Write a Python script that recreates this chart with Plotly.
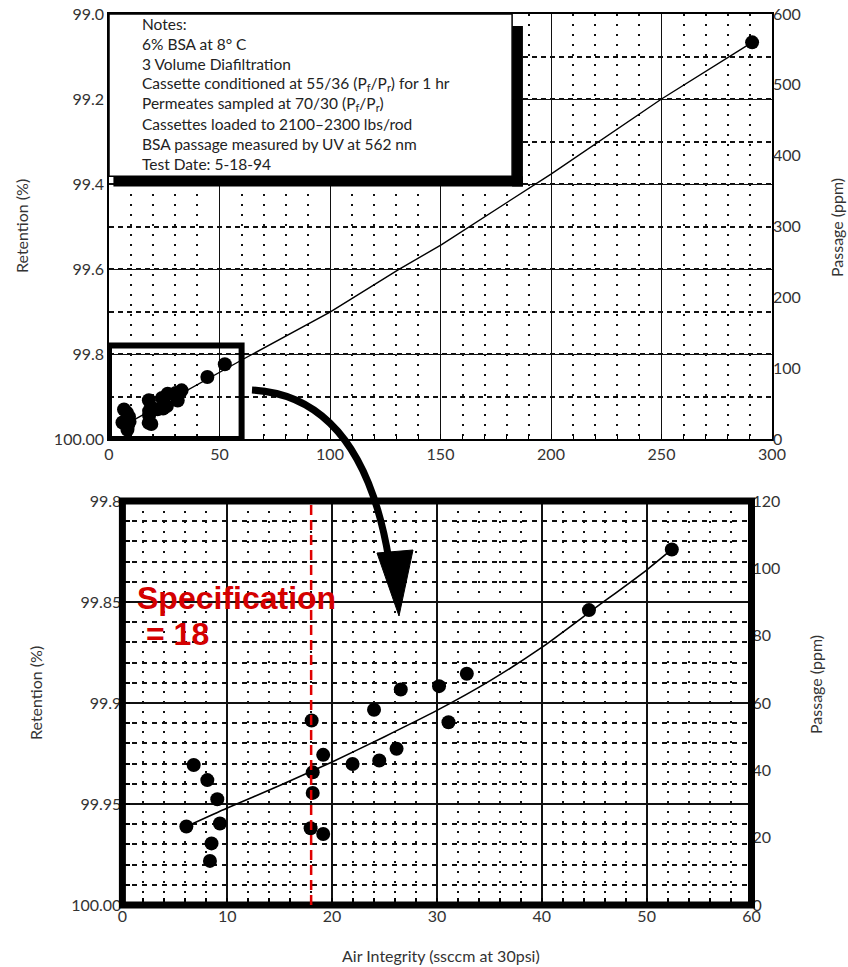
import plotly.graph_objects as go

# ---------------- data ----------------
air_integrity = [6.8, 8.1, 9.05, 9.3, 6.1, 8.5, 8.35, 18.05, 18.15, 18.15, 19.15, 17.95,
                 19.15, 21.95, 24.5, 24.0, 26.15, 26.55, 30.2, 32.85, 31.1, 44.5, 52.4, 291.0]
passage_ppm = [41.6, 37.1, 31.4, 24.2, 23.3, 18.3, 13.1, 54.8, 39.4, 33.3, 44.6, 22.8,
               21.1, 41.9, 42.9, 58.0, 46.4, 64.0, 65.0, 68.7, 54.3, 87.6, 105.6, 560.0]

fit_full_x = [5, 12.5, 61.5, 100, 131, 150.5, 200, 250, 291]
fit_full_ppm = [15, 29, 114, 179, 239, 274.5, 374, 480, 560]

fit_zoom_x = [6.1, 10, 15, 20, 25, 30, 35, 40, 45, 50, 52.4]
fit_zoom_ppm = [23.3, 28.8, 35.5, 42.5, 50.0, 57.8, 66.5, 76.5, 88.0, 99.5, 105.6]

spec = 18

top_ret_ticks = [99.0, 99.2, 99.4, 99.6, 99.8, 100.0]
top_ret_labels = ["99.0", "99.2", "99.4", "99.6", "99.8", "100.00"]
bot_ret_ticks = [99.8, 99.85, 99.9, 99.95, 100.0]
bot_ret_labels = ["99.8", "99.85", "99.9", "99.95", "100.00"]

notes = [
    "Notes:",
    "6% BSA at 8° C",
    "3 Volume Diafiltration",
    "Cassette conditioned at 55/36 (P<sub>f</sub>/P<sub>r</sub>) for 1 hr",
    "Permeates sampled at 70/30 (P<sub>f</sub>/P<sub>r</sub>)",
    "Cassettes loaded to 2100–2300 lbs/rod",
    "BSA passage measured by UV at 562 nm",
    "Test Date: 5-18-94",
]

W, H = 848, 967
def px(x):
    return x / W
def py(y):
    return 1 - y / H

FONT = "Lato"
TXT = "#333333"
GRID = "#111111"

zoom_x = [a for a in air_integrity if a <= 60]
zoom_p = [p for a, p in zip(air_integrity, passage_ppm) if a <= 60]

fig = go.Figure()

# empty base traces so that both base subplots exist
fig.add_trace(go.Scatter(x=[], y=[], xaxis="x", yaxis="y", hoverinfo="skip"))
fig.add_trace(go.Scatter(x=[], y=[], xaxis="x2", yaxis="y3", hoverinfo="skip"))

# top panel
fig.add_trace(go.Scatter(x=fit_full_x, y=fit_full_ppm, mode="lines",
                         line=dict(color="black", width=1.4), xaxis="x", yaxis="y2"))
fig.add_trace(go.Scatter(x=air_integrity, y=passage_ppm, mode="markers",
                         marker=dict(color="black", size=14), xaxis="x", yaxis="y2"))
# bottom panel
fig.add_trace(go.Scatter(x=fit_zoom_x, y=fit_zoom_ppm, mode="lines",
                         line=dict(color="black", width=1.6, shape="spline", smoothing=0.6),
                         xaxis="x2", yaxis="y4"))
fig.add_trace(go.Scatter(x=zoom_x, y=zoom_p, mode="markers",
                         marker=dict(color="black", size=14), xaxis="x2", yaxis="y4"))

tickfont = dict(family=FONT, size=16, color=TXT)

top_dom_x = [px(109), px(772)]
top_dom_y = [py(439), py(14)]
bot_dom_x = [px(122.4), px(751.5)]
bot_dom_y = [py(905), py(501)]

fig.update_layout(
    width=W, height=H, margin=dict(l=0, r=0, t=0, b=0, pad=0), autosize=False,
    paper_bgcolor="white", plot_bgcolor="white", showlegend=False,
    xaxis=dict(domain=top_dom_x, anchor="y", range=[0, 300], dtick=50, tick0=0,
               automargin=False, ticklabeloverflow="allow",
               showgrid=True, gridcolor=GRID, gridwidth=1.3, zeroline=False,
               showline=True, mirror=True, linecolor="black", linewidth=1.5,
               ticks="inside", ticklen=5, tickcolor="black", tickfont=tickfont,
               minor=dict(dtick=10, tick0=0, showgrid=True, gridcolor=GRID,
                          griddash="2px,8px", gridwidth=2, ticks="inside",
                          ticklen=5, tickcolor="black")),
    yaxis=dict(domain=top_dom_y, anchor="x", range=[100, 99.0], tickmode="array",
               tickvals=top_ret_ticks, ticktext=top_ret_labels, automargin=False,
               ticklabeloverflow="allow",
               showgrid=True, gridcolor=GRID, gridwidth=1.3, zeroline=False,
               showline=True, mirror=True, linecolor="black", linewidth=1.5,
               ticks="", tickfont=tickfont,
               minor=dict(tickmode="linear", tick0=99.0, dtick=0.1, showgrid=True,
                          gridcolor=GRID, griddash="5px,4px", gridwidth=1.5)),
    yaxis2=dict(overlaying="y", anchor="x", side="right", range=[0, 600], dtick=100,
                automargin=False, ticklabeloverflow="allow",
                showgrid=False, zeroline=False, showline=False, ticks="",
                tickfont=tickfont),
    xaxis2=dict(domain=bot_dom_x, anchor="y3", range=[0, 60], dtick=10, tick0=0,
                automargin=False, ticklabeloverflow="allow",
                showgrid=True, gridcolor=GRID, gridwidth=1.5, zeroline=False,
                showline=False, ticks="inside", ticklen=7, tickwidth=2,
                tickcolor="black", tickfont=tickfont,
                minor=dict(dtick=2, tick0=0, showgrid=True, gridcolor=GRID,
                           griddash="2px,8px", gridwidth=2, ticks="inside",
                           ticklen=7, tickwidth=2, tickcolor="black")),
    yaxis3=dict(domain=bot_dom_y, anchor="x2", range=[100, 99.8], tickmode="array",
                tickvals=bot_ret_ticks, ticktext=bot_ret_labels, automargin=False,
                ticklabeloverflow="allow",
                showgrid=True, gridcolor=GRID, gridwidth=1.5, zeroline=False,
                showline=False, ticks="inside", ticklen=8, tickwidth=2,
                tickcolor="black", tickfont=tickfont,
                minor=dict(tickmode="linear", tick0=99.8, dtick=0.01, showgrid=True,
                           gridcolor=GRID, griddash="5px,5px", gridwidth=1.5,
                           ticks="inside", ticklen=8, tickwidth=2, tickcolor="black")),
    yaxis4=dict(overlaying="y3", anchor="x2", side="right", range=[0, 120], dtick=20,
                automargin=False, ticklabeloverflow="allow",
                showgrid=False, zeroline=False, showline=False, ticks="",
                tickfont=tickfont),
)

shapes = []
# notes box shadow + box
shapes.append(dict(type="rect", xref="x", yref="y", x0=182.4, x1=187.3, y0=99.028, y1=99.406,
                   fillcolor="black", line=dict(width=0), layer="above"))
shapes.append(dict(type="rect", xref="x", yref="y", x0=2, x1=187.3, y0=99.382, y1=99.406,
                   fillcolor="black", line=dict(width=0), layer="above"))
shapes.append(dict(type="rect", xref="x", yref="y", x0=0, x1=182.4, y0=99.0, y1=99.382,
                   fillcolor="white", line=dict(color="black", width=1.5), layer="above"))
# zoom region rectangle in top panel
shapes.append(dict(type="rect", xref="x", yref="y", x0=0, x1=60, y0=100, y1=99.78,
                   line=dict(color="black", width=6), layer="above"))
# thick frame of bottom panel
shapes.append(dict(type="rect", xref="x2 domain", yref="y3 domain", x0=0, x1=1, y0=0, y1=1,
                   line=dict(color="black", width=7), layer="above"))
# specification line
shapes.append(dict(type="line", xref="x2", yref="y3 domain", x0=spec, x1=spec, y0=0, y1=1,
                   line=dict(color="#e00000", width=2.5, dash="10px,5px"), layer="above"))
# curved arrow
shapes.append(dict(type="path", xref="paper", yref="paper",
                   path=f"M {px(252)},{py(390)} Q {px(362)},{py(396)} {px(389)},{py(560)}",
                   line=dict(color="black", width=7)))
shapes.append(dict(type="path", xref="paper", yref="paper",
                   path=f"M {px(377)},{py(553)} L {px(413)},{py(550)} L {px(399)},{py(616)} Z",
                   fillcolor="black", line=dict(color="black", width=1)))
fig.update_layout(shapes=shapes)

ann = []
for i, line in enumerate(notes):
    ann.append(dict(text=line, xref="paper", yref="paper", x=px(140), y=py(24 + i * 20.0),
                    xanchor="left", yanchor="middle", showarrow=False,
                    font=dict(family=FONT, size=15.5, color="#222222")))
ann.append(dict(text="<b>Specification</b>", xref="paper", yref="paper", x=px(135), y=py(598),
                xanchor="left", yanchor="middle", showarrow=False,
                font=dict(family="Liberation Sans", size=32, color="#d40000")))
ann.append(dict(text=f"<b>= {spec}</b>", xref="paper", yref="paper", x=px(144), y=py(634),
                xanchor="left", yanchor="middle", showarrow=False,
                font=dict(family="Liberation Sans", size=32, color="#d40000")))
for (xx, yy, t) in [(22, 226, "Retention (%)"), (35, 693, "Retention (%)"),
                    (837, 228, "Passage (ppm)"), (815, 685, "Passage (ppm)")]:
    ann.append(dict(text=t, xref="paper", yref="paper", x=px(xx), y=py(yy), textangle=-90,
                    xanchor="center", yanchor="middle", showarrow=False,
                    font=dict(family=FONT, size=16, color=TXT)))
ann.append(dict(text="Air Integrity (ssccm at 30psi)", xref="paper", yref="paper",
                x=px(441), y=py(955), xanchor="center", yanchor="middle", showarrow=False,
                font=dict(family=FONT, size=16, color=TXT)))
fig.update_layout(annotations=ann)

fig.write_html("out.html", config={"displayModeBar": False},
               post_script="document.body.style.margin='0';document.body.style.overflow='hidden';")
